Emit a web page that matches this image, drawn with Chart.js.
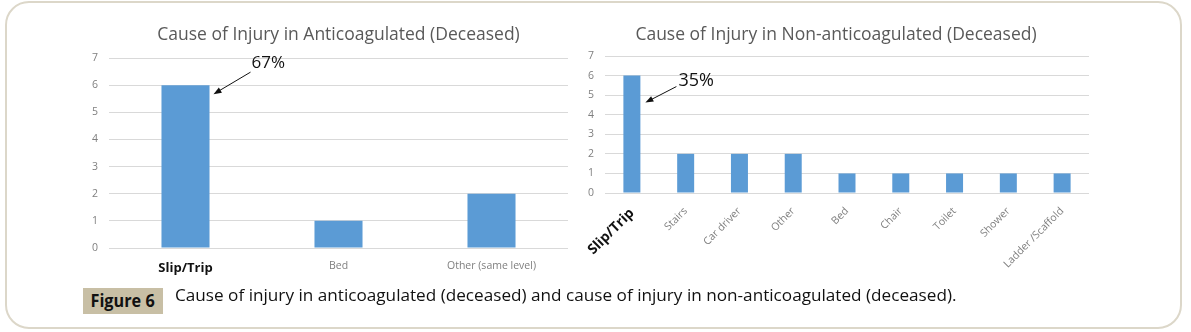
<!DOCTYPE html>
<html>
<head>
<meta charset="utf-8">
<script src="https://cdn.jsdelivr.net/npm/chart.js@4.4.1/dist/chart.umd.min.js"></script>
<style>
  body { margin: 0; width: 1191px; height: 332px; background: #fff; position: relative; overflow: hidden; font-family: "Open Sans", sans-serif; }
  .frame { position: absolute; left: 5px; top: 1px; width: 1173px; height: 324px; border: 2px solid #dcd7c9; border-radius: 24px; }
  #boxLeft { position: absolute; left: 90px; top: 15px; }
  #boxRight { position: absolute; left: 575px; top: 15px; }
  .fig { position: absolute; left: 83px; top: 288px; width: 80px; height: 26px; background: #c8bfa5; color: #111; font-weight: bold; font-size: 17px; line-height: 26px; text-align: center; }
  .cap { position: absolute; left: 175px; top: 284px; font-size: 17px; line-height: 22px; color: #111; white-space: nowrap; transform-origin: left center; }
</style>
</head>
<body>
<div class="frame"></div>
<canvas id="boxLeft" width="492" height="270"></canvas>
<canvas id="boxRight" width="522" height="265"></canvas>
<div class="fig"><span id="figText">Figure 6</span></div>
<div class="cap" id="cap">Cause of injury in anticoagulated (deceased) and cause of injury in non-anticoagulated (deceased).</div>
<script>
// data
const leftCategories = ['Slip/Trip', 'Bed', 'Other (same level)'];
const leftValues = [6, 1, 2];
const rightCategories = ['Slip/Trip', 'Stairs', 'Car driver', 'Other', 'Bed', 'Chair', 'Toilet', 'Shower', 'Ladder /Scaffold'];
const rightValues = [6, 2, 2, 2, 1, 1, 1, 1, 1];
const yMin = 0;
const yMax = 7;
const leftNote = '67%';
const rightNote = '35%';

const barBlue = '#5b9bd5';
const gridGray = '#d9d9d9';

// arrow + percent note pointing at the first bar
const notePlugin = {
    id: 'note',
    afterDatasetsDraw(chart, args, opts) {
        const bar = chart.getDatasetMeta(0).data[0];
        const ctx = chart.ctx;
        const tipX = bar.x + bar.width / 2 + opts.tip[0];
        const tipY = bar.y + opts.tip[1];
        const tailX = tipX + opts.tail[0];
        const tailY = tipY + opts.tail[1];
        const ang = Math.atan2(tipY - tailY, tipX - tailX);
        ctx.save();
        ctx.strokeStyle = '#111';
        ctx.fillStyle = '#111';
        ctx.lineWidth = 1;
        ctx.beginPath();
        ctx.moveTo(tailX, tailY);
        ctx.lineTo(tipX - 6 * Math.cos(ang), tipY - 6 * Math.sin(ang));
        ctx.stroke();
        ctx.beginPath();
        ctx.moveTo(tipX, tipY);
        ctx.lineTo(tipX - 8 * Math.cos(ang) + 3 * Math.sin(ang), tipY - 8 * Math.sin(ang) - 3 * Math.cos(ang));
        ctx.lineTo(tipX - 8 * Math.cos(ang) - 3 * Math.sin(ang), tipY - 8 * Math.sin(ang) + 3 * Math.cos(ang));
        ctx.closePath();
        ctx.fill();
        ctx.font = opts.size + 'px "Open Sans"';
        ctx.textBaseline = 'middle';
        ctx.textAlign = 'left';
        ctx.fillText(opts.text, tailX + opts.textOff[0], tailY + opts.textOff[1]);
        ctx.restore();
    }
};

function makeChart(id, cats, vals, title, o) {
    return new Chart(document.getElementById(id).getContext('2d'), {
        type: 'bar',
        data: {
            labels: cats,
            datasets: [{
                data: vals,
                backgroundColor: barBlue,
                borderWidth: 0,
                categoryPercentage: 1,
                barPercentage: o.barPct
            }]
        },
        options: {
            responsive: false,
            animation: false,
            layout: { padding: { left: o.padLeft, right: o.padRight, top: 0, bottom: 0 } },
            plugins: {
                legend: { display: false },
                tooltip: { enabled: false },
                title: {
                    display: true,
                    text: title,
                    fullSize: o.titleFull,
                    color: '#595959',
                    font: { family: 'Open Sans', size: 17.5, weight: 'normal' },
                    padding: { top: 9.5, bottom: o.titleBottom }
                },
                note: o.note
            },
            scales: {
                x: {
                    grid: { display: false },
                    border: { display: false },
                    ticks: {
                        autoSkip: false,
                        padding: o.xPad,
                        minRotation: o.rot,
                        maxRotation: o.rot,
                        color: c => c.index === 0 ? '#111' : '#7f7f7f',
                        font: c => c.index === 0
                            ? { family: 'Open Sans', size: o.firstSize, weight: 'bold' }
                            : { family: 'Open Sans', size: 10.5 }
                    },
                    afterFit: s => { s.height = o.xHeight; }
                },
                y: {
                    min: yMin,
                    max: yMax,
                    border: { display: false },
                    grid: { color: gridGray, drawTicks: false },
                    ticks: { stepSize: 1, padding: 11, color: '#7f7f7f', font: { family: 'Open Sans', size: 10.5 } },
                    afterFit: s => { s.width = o.yWidth; }
                }
            }
        },
        plugins: [notePlugin]
    });
}

makeChart('boxLeft', leftCategories, leftValues, 'Cause of Injury in Anticoagulated (Deceased)', {
    barPct: 0.314, padLeft: 0, padRight: 14, titleFull: false, titleBottom: 12.5, xPad: 4, rot: 0, firstSize: 13,
    xHeight: 37, yWidth: 19,
    note: { text: leftNote, size: 17, tip: [4, 9], tail: [37, -22], textOff: [1, -9] }
});

makeChart('boxRight', rightCategories, rightValues, 'Cause of Injury in Non-anticoagulated (Deceased)', {
    barPct: 0.316, padLeft: 8, padRight: 8, titleFull: true, titleBottom: 10.5, xPad: 4, rot: 45, firstSize: 14,
    xHeight: 87, yWidth: 22,
    note: { text: rightNote, size: 18, tip: [5, 27], tail: [31, -16], textOff: [2, -6] }
});

// squeeze caption texts to the width they take in the picture
const cap = document.getElementById('cap');
cap.style.transform = 'scaleX(' + (782 / cap.offsetWidth) + ')';
const fig = document.getElementById('figText');
fig.style.display = 'inline-block';
fig.style.transform = 'scaleX(' + (64 / fig.offsetWidth) + ')';
</script>
</body>
</html>
